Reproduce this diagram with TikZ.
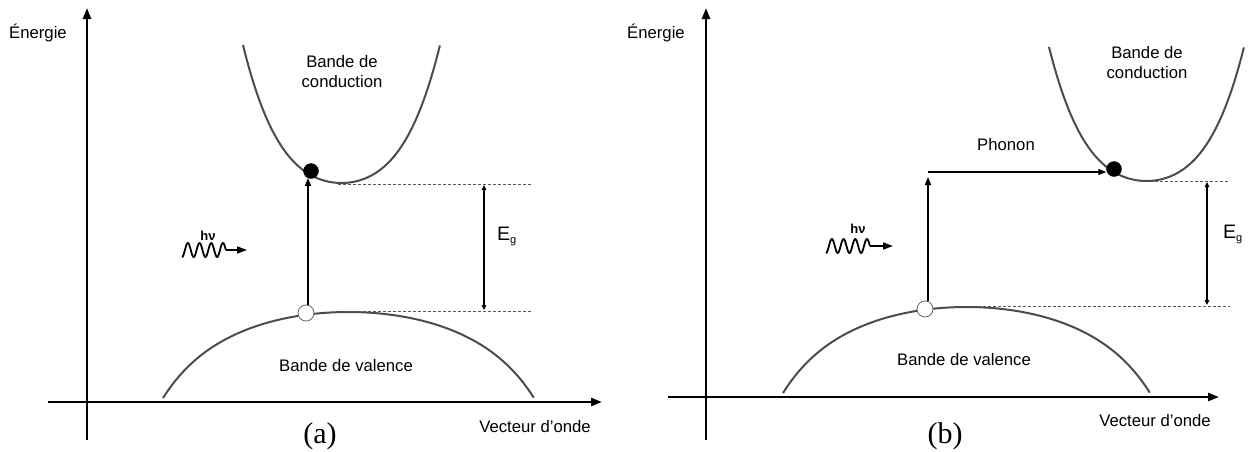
\documentclass[tikz,border=0pt]{standalone}
\usepackage{fontspec}
\setmainfont{Liberation Sans}
\newfontfamily\timesfont{Liberation Serif}
\usetikzlibrary{arrows.meta}
\begin{document}
\begin{tikzpicture}[x=1pt,y=-1pt,
  axis/.style={line width=2.4pt, -{Triangle[length=11pt,width=8pt]}},
  band/.style={line width=2pt, draw=black!70},
  trans/.style={line width=1.6pt, -{Triangle[length=8pt,width=6pt]}},
  gaparrow/.style={line width=1.8pt, {Triangle[length=5pt,width=4.5pt]}-{Triangle[length=5pt,width=4.5pt]}},
  guide/.style={line width=0.6pt, dash pattern=on 3pt off 2pt, draw=black!65},
  lbl/.style={font=\fontsize{16.7}{20}\selectfont, align=center, inner sep=0pt},
  panel/.style={font=\timesfont\fontsize{30}{32}\selectfont, inner sep=0pt},
  hnu/.style={font=\bfseries\fontsize{13}{14}\selectfont, inner sep=0pt},
  eg/.style={font=\fontsize{19.5}{22}\selectfont, inner sep=0pt},
  electron/.style={circle, fill=black, draw=black, minimum size=15pt, inner sep=0pt},
  hole/.style={circle, fill=white, draw=black!60, line width=0.8pt, minimum size=16pt, inner sep=0pt},
  wave/.style={line width=1.8pt, line join=round},
  photon/.style={line width=1.6pt, -{Triangle[length=10pt,width=7pt]}}
]
\useasboundingbox (0,0) rectangle (1248,451);

%================ Panel (a) ================
\coordinate (aYb) at (87,440);  \coordinate (aYt) at (87,8);
\coordinate (aXl) at (48,402);  \coordinate (aXr) at (602,402);
\draw[axis] (aYb) -- (aYt);
\draw[axis] (aXl) -- (aXr);
\node[lbl] (aEn) at (38,33) {Énergie};
\node[lbl] (aVo) at (535,427) {Vecteur d’onde};
\node[panel] (aLab) at (320,436) {(a)};

% conduction band
\draw[band] plot[domain=-1:1, samples=101, smooth] ({341.5+98.5*\x}, {183-138*(0.55*\x*\x+0.45*\x*\x*\x*\x)});
\node[lbl] (aCB) at (342,72) {Bande de\\conduction};
% valence band
\draw[band] plot[domain=-1:1, samples=101, smooth] ({348.5+185.5*\x}, {312+86*(0.6*\x*\x+0.25*\x*\x*\x*\x+0.15*\x*\x*\x*\x*\x*\x*\x*\x)});
\node[lbl] (aVB) at (346,366) {Bande de valence};

% guides
\coordinate (aG1l) at (338,184); \coordinate (aG1r) at (531,184);
\coordinate (aG2l) at (338,311); \coordinate (aG2r) at (531,311);
\draw[guide] (aG1l) -- (aG1r);
\draw[guide] (aG2l) -- (aG2r);
\coordinate (aEgt) at (484,185); \coordinate (aEgb) at (484,310);
\draw[gaparrow] (aEgt) -- (aEgb);
\node[eg] (aEg) at (507,236) {E\textsubscript{\fontsize{11}{12}\selectfont g}};

% carriers
\node[electron] (aE) at (311,171) {};
\node[hole] (aH) at (306,313) {};
\draw[trans] (aH.north -| 308,0) -- (308,178);

% photon
\draw[wave] plot[domain=0:3.75, samples=90, smooth] ({182+\x*11.7}, {250+7*cos(360*\x)}) coordinate (aPw);
\coordinate (aPt) at (247,250);
\draw[photon] (aPw) -- (aPt);
\node[hnu] (aHn) at (208,236) {hν};

%================ Panel (b) ================
\coordinate (bYb) at (706,440);  \coordinate (bYt) at (706,8);
\coordinate (bXl) at (668,397);  \coordinate (bXr) at (1219,397);
\draw[axis] (bYb) -- (bYt);
\draw[axis] (bXl) -- (bXr);
\node[lbl] (bEn) at (656,33) {Énergie};
\node[lbl] (bVo) at (1155,421) {Vecteur d’onde};
\node[panel] (bLab) at (945,436) {(b)};

% conduction band
\draw[band] plot[domain=-1:1, samples=101, smooth] ({1146.5+97.5*\x}, {181-134*(0.55*\x*\x+0.45*\x*\x*\x*\x)});
\node[lbl] (bCB) at (1147,63) {Bande de\\conduction};
% valence band
\draw[band] plot[domain=-1:1, samples=101, smooth] ({966.5+183.5*\x}, {307+86*(0.6*\x*\x+0.25*\x*\x*\x*\x+0.15*\x*\x*\x*\x*\x*\x*\x*\x)});
\node[lbl] (bVB) at (964,360) {Bande de valence};

% guides
\coordinate (bG1l) at (1150,181); \coordinate (bG1r) at (1230,181);
\coordinate (bG2l) at (968,306); \coordinate (bG2r) at (1230,306);
\draw[guide] (bG1l) -- (bG1r);
\draw[guide] (bG2l) -- (bG2r);
\coordinate (bEgt) at (1207,182); \coordinate (bEgb) at (1207,305);
\draw[gaparrow] (bEgt) -- (bEgb);
\node[eg] (bEg) at (1233,234) {E\textsubscript{\fontsize{11}{12}\selectfont g}};

% carriers
\node[electron] (bE) at (1114,169) {};
\node[hole] (bH) at (925,309) {};
\coordinate (bTt) at (928,177);
\draw[trans] (bH.north -| bTt) -- (bTt);
\coordinate (bPs) at (928,172);
\draw[trans] (bPs) -- (bE.west |- bPs);
\node[lbl] (bPh) at (1006,145) {Phonon};

% photon
\draw[wave] plot[domain=0:3.75, samples=90, smooth] ({826+\x*11.7}, {246+7*cos(360*\x)}) coordinate (bPw);
\coordinate (bPt) at (893,246);
\draw[photon] (bPw) -- (bPt);
\node[hnu] (bHn) at (858,229) {hν};
\end{tikzpicture}
\end{document}
